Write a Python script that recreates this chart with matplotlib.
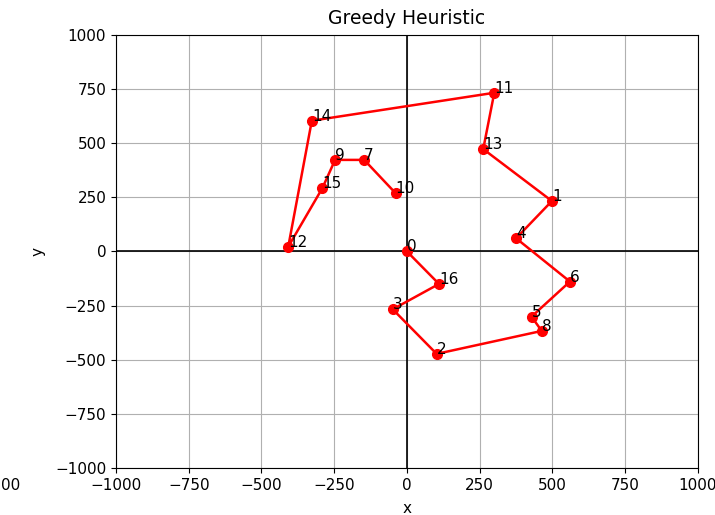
import matplotlib
matplotlib.use('Agg')
import matplotlib.pyplot as plt

# 城市坐标 (编号 -> 坐标)
cities = [0, 16, 3, 2, 8, 5, 6, 4, 1, 13, 11, 14, 12, 15, 9, 7, 10]
xs = [0, 110, -49, 102, 463, 428, 560, 375, 498, 262, 300, -327, -408, -291, -247, -147, -39]
ys = [0, -150, -267, -473, -367, -301, -139, 61, 233, 473, 733, 604, 22, 292, 423, 423, 269]

ticks = [-1000, -750, -500, -250, 0, 250, 500, 750, 1000]

fig = plt.figure(figsize=(7.15, 5.15), dpi=100)
ax = fig.add_axes([0.1622, 0.0913, 0.8140, 0.8408])

ax.plot(xs, ys, color='red', marker='o', lw=1.8, ms=7, zorder=3)
for c, x, y in zip(cities, xs, ys):
    ax.text(x, y, str(c), fontsize=11)

ax.axhline(0, color='black', lw=1.2)
ax.axvline(0, color='black', lw=1.2)
ax.set_xlim(-1000, 1000)
ax.set_ylim(-1000, 1000)
ax.set_xticks(ticks)
ax.set_yticks(ticks)
ax.tick_params(labelsize=11)
ax.grid(True)
ax.set_axisbelow(True)
ax.set_title('Greedy Heuristic', fontsize=13.5, pad=8)
ax.set_xlabel('x', fontsize=11, labelpad=6)
ax.set_ylabel('y', fontsize=11, labelpad=7)

# 左下角被裁掉的残留刻度
fig.text(1 / 715, 1 - 485 / 515, '00', ha='left', va='center', fontsize=11)

fig.savefig('out.png', dpi=100)
